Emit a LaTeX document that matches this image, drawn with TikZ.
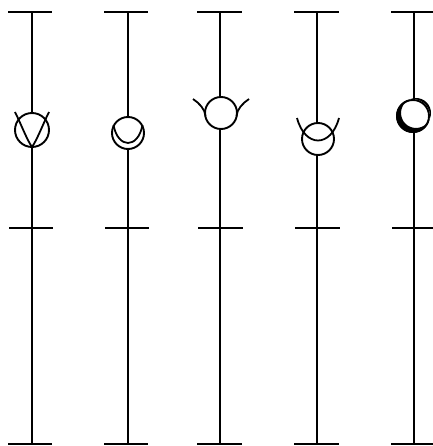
\documentclass[tikz,border=0pt]{standalone}
\begin{document}
\begin{tikzpicture}[x=1pt,y=-1pt,
  ln/.style={draw=black,line width=1.5pt},
  sym/.style={draw=black,line width=1.9pt,fill=white},
  curve/.style={draw=black,line width=1.8pt}]
\useasboundingbox (0,0) rectangle (432,446);
% vertical lines and bars
\foreach \x/\a/\b in {32/8/52,128/104/148,220/197/242,317/294/339,414/391/436}{
  \draw[ln] (\x,12) -- (\x,444);
  \draw[ln] (\a,12) -- (\b,12);
  \draw[ln] (\a+1,228) -- (\b+1,228);
  \draw[ln] (\a,444) -- (\b,444);
}
% symbol 1
\draw[sym] (32,130) circle (17);
\draw[curve] (15,112) .. controls (21,124) and (27,140) .. (32,147)
             .. controls (37,140) and (43,124) .. (49,112);
% symbol 2
\draw[sym] (128,133) circle (16);
\draw[curve] (113.5,125) .. controls (118,149) and (138,149) .. (142.5,125);
% symbol 3
\draw[sym] (221,113) circle (16);
\draw[curve] (193,99) .. controls (199,103) and (205,109) .. (205.5,116);
\draw[curve] (249,99) .. controls (243,103) and (237,109) .. (236.5,116);
% symbol 4
\draw[sym] (318,139) circle (16);
\draw[curve] (297,118) .. controls (305,148) and (331,148) .. (339,118);
% symbol 5
\draw[sym] (413,116) circle (16);
\fill[black,even odd rule] (413,116) circle (17) (416,113) circle (15);
\end{tikzpicture}
\end{document}
